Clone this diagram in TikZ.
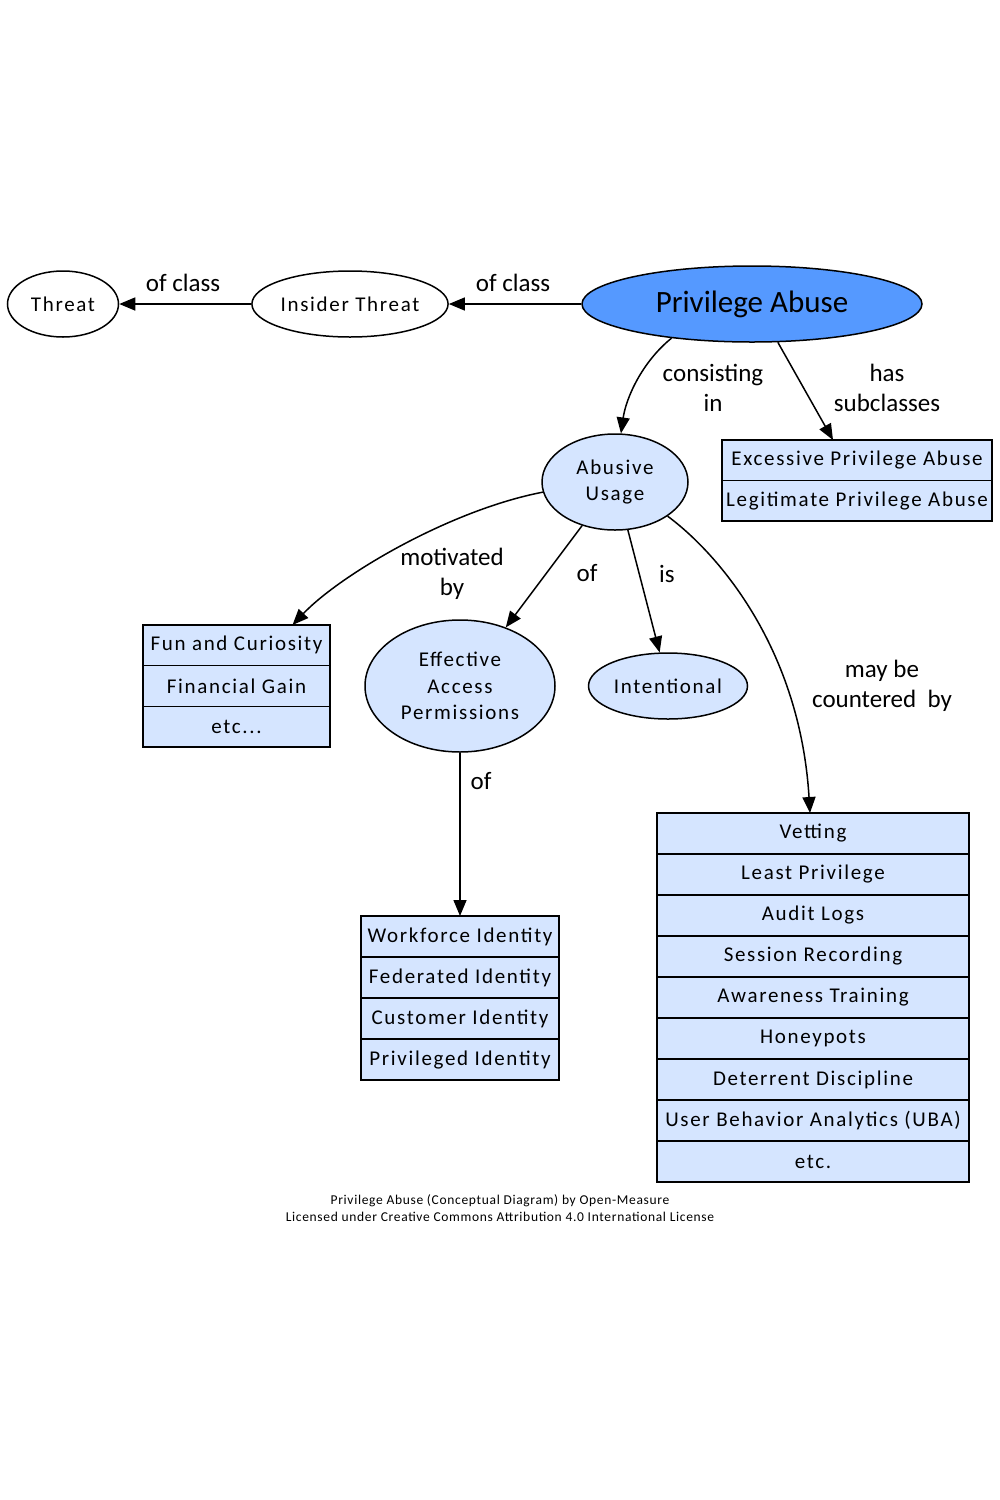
\documentclass[tikz,border=0pt]{standalone}
\usepackage{fontspec}
\setmainfont{Carlito}
\newfontfamily\nodefont[LetterSpace=8]{Carlito}
\newfontfamily\footfont[LetterSpace=5]{Carlito}
\usetikzlibrary{shapes.geometric,arrows.meta,backgrounds}
\definecolor{lb}{HTML}{D5E5FF}
\definecolor{pab}{HTML}{5599FF}
\tikzset{
  x=1pt, y=-1pt,
  ell/.style={ellipse, draw, line width=1.5pt, inner sep=0pt, align=center,
    font=\nodefont\fontsize{21}{26.5}\selectfont},
  rowbox/.style={rectangle, draw, line width=1.5pt, inner sep=0pt, outer sep=0pt,
    minimum height=41pt, anchor=north, font=\nodefont\fontsize{21}{24}\selectfont},
  edge/.style={line width=1.5pt, -{Triangle[length=16pt,width=13pt]}},
  elabel/.style={align=center, inner sep=0pt, font=\fontsize{25}{30}\selectfont},
}
\begin{document}
\begin{tikzpicture}
\useasboundingbox (0,0) rectangle (1000,1500);
% ellipses
\node[ell, minimum width=111pt, minimum height=66pt] (thr) at (63,304) {Threat};
\node[ell, minimum width=195pt, minimum height=66pt] (ins) at (350,304) {Insider Threat};
\node[ellipse, draw, line width=1.5pt, fill=pab, inner sep=0pt, minimum width=340pt, minimum height=76pt,
  font=\fontsize{31}{36}\selectfont] (pa) at (752,304) {\raisebox{-2pt}{Privilege Abuse}};
\node[ell, fill=lb, minimum width=146pt, minimum height=96pt] (au) at (615,482) {Abusive\\Usage};
\node[ell, fill=lb, minimum width=190pt, minimum height=132pt] (eap) at (460,686) {Effective\\Access\\Permissions};
\node[ell, fill=lb, minimum width=159pt, minimum height=66pt] (int) at (668,686) {Intentional};
% subclass box
\node[rowbox, minimum width=270pt, minimum height=40.5pt] (exc) at (857,440) {Excessive Privilege Abuse};
\node[rowbox, minimum width=270pt, minimum height=40.5pt] (leg) at (exc.south) {Legitimate Privilege Abuse};
% motive box
\node[rowbox, minimum width=187pt, minimum height=40.7pt] (fun) at (236.5,625) {Fun and Curiosity};
\node[rowbox, minimum width=187pt, minimum height=40.7pt] (fin) at (fun.south) {Financial Gain};
\node[rowbox, minimum width=187pt, minimum height=40.7pt] (etc1) at (fin.south) {etc...};
% identity box
\node[rowbox, minimum width=198pt] (wf) at (460,916) {Workforce Identity};
\node[rowbox, minimum width=198pt] (fed) at (wf.south) {Federated Identity};
\node[rowbox, minimum width=198pt] (cus) at (fed.south) {Customer Identity};
\node[rowbox, minimum width=198pt] (prv) at (cus.south) {Privileged Identity};
% controls box
\node[rowbox, minimum width=312pt] (vet) at (813,813) {Vetting};
\node[rowbox, minimum width=312pt] (lp) at (vet.south) {Least Privilege};
\node[rowbox, minimum width=312pt] (al) at (lp.south) {Audit Logs};
\node[rowbox, minimum width=312pt] (sr) at (al.south) {Session Recording};
\node[rowbox, minimum width=312pt] (at) at (sr.south) {Awareness Training};
\node[rowbox, minimum width=312pt] (hp) at (at.south) {Honeypots};
\node[rowbox, minimum width=312pt] (dd) at (hp.south) {Deterrent Discipline};
\node[rowbox, minimum width=312pt] (uba) at (dd.south) {User Behavior Analytics (UBA)};
\node[rowbox, minimum width=312pt] (etc2) at (uba.south) {etc.};
% box fills behind
\begin{scope}[on background layer]
\fill[lb] (exc.north west) rectangle (leg.south east);
\fill[lb] (fun.north west) rectangle (etc1.south east);
\fill[lb] (wf.north west) rectangle (prv.south east);
\fill[lb] (vet.north west) rectangle (etc2.south east);
\end{scope}
% edges
\draw[edge] (ins.west) -- (thr.east);
\draw[edge] (pa.west) -- (ins.east);
\draw[edge] (pa.203) .. controls (642,362) and (626,398) .. (au.83);
\draw[edge] (pa.304) -- ([xshift=-24pt]exc.north);
\draw[edge] (au.188) .. controls (450,510) and (340,575) .. ([xshift=56pt]fun.north);
\draw[edge] (au.233) -- (eap.52);
\draw[edge] (au.285) -- (int.104);
\draw[edge] (au.327) .. controls (720,555) and (800,650) .. ([xshift=-3pt]vet.north);
\draw[edge] (eap.south) -- (wf.north);
% edge labels
\node[elabel] (l1) at (183,283) {of class};
\node[elabel] (l2) at (513,283) {of class};
\node[elabel] (l3) at (713,388) {consisting\\in};
\node[elabel] (l4) at (887,388) {has\\subclasses};
\node[elabel] (l5) at (452,574) {motivated\\by};
\node[elabel] (l6) at (587,573) {of};
\node[elabel] (l7) at (667,574) {is};
\node[elabel] (l8) at (882,686) {may be\\countered~ by};
\node[elabel] (l9) at (481,781) {of};
% footer
\node[align=center, inner sep=0pt, font=\footfont\fontsize{13.5}{17}\selectfont] (foot) at (500,1208)
  {Privilege Abuse (Conceptual Diagram) by Open-Measure\\Licensed under Creative Commons Attribution 4.0 International License};
\end{tikzpicture}
\end{document}
